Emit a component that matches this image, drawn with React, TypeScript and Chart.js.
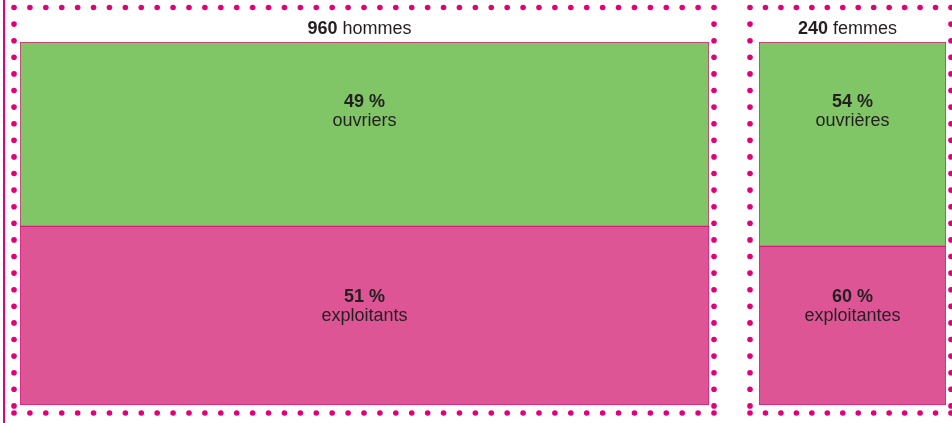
import { useEffect, useRef } from "react";
import { Chart, registerables } from "chart.js";

Chart.register(...registerables);

// ---- data ----
const panelNames = ["hommes", "femmes"];
const panelTotals = [960, 240];
const ouvriersPct = [49, 54];
const exploitantsPct = [51, 60];
const ouvriersLabels = ["ouvriers", "ouvrières"];
const exploitantsLabels = ["exploitants", "exploitantes"];
// segment heights as drawn in the picture (share of the column, %)
const ouvriersShare = [50.8, 56.3];
const exploitantsShare = [49.2, 43.7];

const GREEN = "#80c566";
const PINK = "#de5596";
const MAGENTA = "#e2007a";
const BORDER = "#d81b7e";
const TEXT = "#231f20";
const FONT = "'Liberation Sans', Arial, Helvetica, sans-serif";

type PanelGeom = {
  left: number; // canvas left on page
  width: number;
  padding: { left: number; right: number; top: number; bottom: number };
  dotLeft: number; // page coords
  dotRight: number;
  solidLine: boolean;
};

const geoms: PanelGeom[] = [
  { left: 0, width: 722, padding: { left: 20, right: 13, top: 42, bottom: 18 }, dotLeft: 14, dotRight: 714, solidLine: true },
  { left: 732, width: 220, padding: { left: 27, right: 6, top: 42, bottom: 18 }, dotLeft: 750, dotRight: 951, solidLine: false },
];

function dot(ctx: CanvasRenderingContext2D, x: number, y: number) {
  ctx.beginPath();
  ctx.arc(x, y, 2.8, 0, Math.PI * 2);
  ctx.fill();
}

function makePlugin(i: number) {
  const g = geoms[i];
  return {
    id: "panelDecor" + i,
    afterDraw(chart: any) {
      const ctx: CanvasRenderingContext2D = chart.ctx;
      const H = chart.height;
      ctx.save();
      ctx.fillStyle = MAGENTA;
      // solid line on far left
      if (g.solidLine) ctx.fillRect(3, 0, 2, H);
      const l = g.dotLeft - g.left;
      const r = g.dotRight - g.left;
      const top = 7.5;
      const bottom = 413;
      // top & bottom rows
      const n = Math.round((r - l) / 16);
      const step = (r - l) / n;
      for (let k = 0; k <= n; k++) {
        dot(ctx, l + k * step, top);
        dot(ctx, l + k * step, bottom);
      }
      // side columns
      for (let y = top + 16.6; y < bottom - 6; y += 16.6) {
        dot(ctx, l, y);
        dot(ctx, r, y);
      }

      // labels
      const mG = chart.getDatasetMeta(1).data[0];
      const mP = chart.getDatasetMeta(0).data[0];
      const ca = chart.chartArea;
      const cx = mG.x;
      ctx.fillStyle = TEXT;
      ctx.textAlign = "center";
      ctx.textBaseline = "alphabetic";
      const bold = `bold 18px ${FONT}`;
      const norm = `18px ${FONT}`;
      ctx.font = bold;
      ctx.fillText(ouvriersPct[i] + " %", cx, ca.top + 65);
      ctx.font = norm;
      ctx.fillText(ouvriersLabels[i], cx, ca.top + 84);
      ctx.font = bold;
      ctx.fillText(exploitantsPct[i] + " %", mP.x, ca.top + 260);
      ctx.font = norm;
      ctx.fillText(exploitantsLabels[i], mP.x, ca.top + 279);

      // title (mixed bold / normal)
      const a = String(panelTotals[i]);
      const b = " " + panelNames[i];
      ctx.font = bold;
      const wa = ctx.measureText(a).width;
      ctx.font = norm;
      const wb = ctx.measureText(b).width;
      const sx = cx - 5 - (wa + wb) / 2;
      ctx.textAlign = "left";
      ctx.font = bold;
      ctx.fillText(a, sx, 34);
      ctx.font = norm;
      ctx.fillText(b, sx + wa, 34);
      ctx.restore();
    },
  };
}

function Panel({ i }: { i: number }) {
  const ref = useRef<HTMLCanvasElement | null>(null);
  const g = geoms[i];
  useEffect(() => {
    if (!ref.current) return;
    const chart = new Chart(ref.current, {
      type: "bar",
      data: {
        labels: [panelNames[i]],
        datasets: [
          {
            label: exploitantsLabels[i],
            data: [exploitantsShare[i]],
            backgroundColor: PINK,
            borderColor: BORDER,
            borderWidth: 1,
            borderSkipped: false,
            barPercentage: 1,
            categoryPercentage: 1,
          },
          {
            label: ouvriersLabels[i],
            data: [ouvriersShare[i]],
            backgroundColor: GREEN,
            borderColor: BORDER,
            borderWidth: 1,
            borderSkipped: false,
            barPercentage: 1,
            categoryPercentage: 1,
          },
        ],
      },
      options: {
        responsive: false,
        animation: false,
        layout: { padding: g.padding },
        plugins: { legend: { display: false }, tooltip: { enabled: false }, title: { display: false } },
        scales: {
          x: { stacked: true, display: false, offset: true },
          y: { stacked: true, display: false, min: 0, max: 100 },
        },
      },
      plugins: [makePlugin(i)],
    } as any);
    return () => chart.destroy();
  }, []);
  return (
    <canvas
      ref={ref}
      width={g.width}
      height={423}
      style={{ position: "absolute", left: g.left, top: 0, width: g.width, height: 423 }}
    />
  );
}

export default function App() {
  return (
    <div style={{ position: "fixed", left: 0, top: 0, width: 952, height: 423, background: "#fff", overflow: "hidden" }}>
      <Panel i={0} />
      <Panel i={1} />
    </div>
  );
}
